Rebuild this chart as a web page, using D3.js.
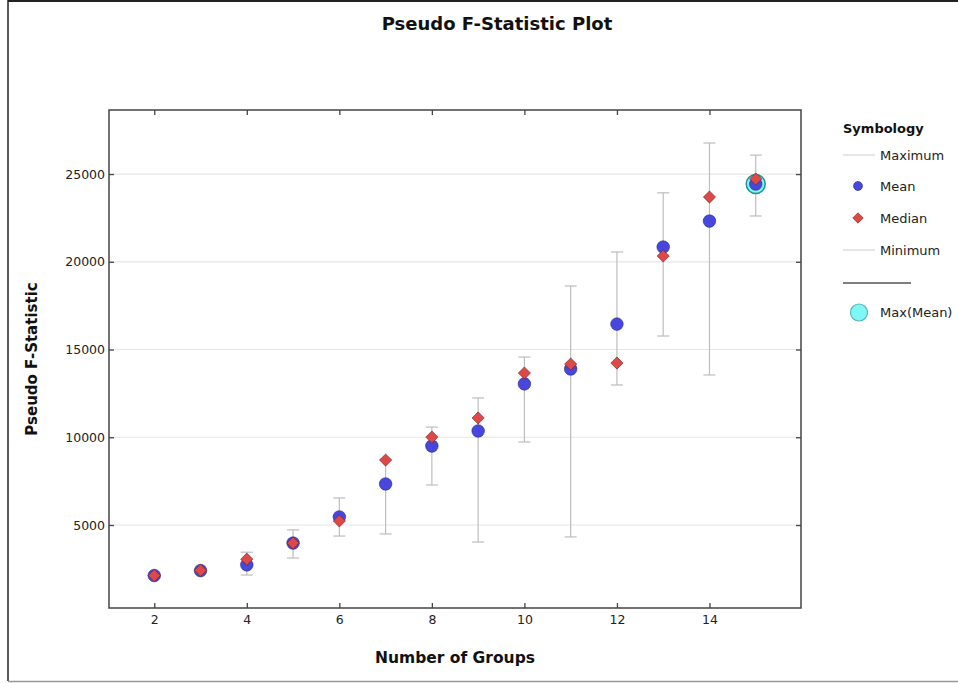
<!DOCTYPE html>
<html>
<head>
<meta charset="utf-8">
<script src="https://cdn.jsdelivr.net/npm/d3@7/dist/d3.min.js"></script>
<style>
  html, body { margin: 0; padding: 0; background: #fff; }
  svg { display: block; font-family: "DejaVu Sans", sans-serif; }
</style>
</head>
<body>
<svg id="chart" width="958" height="683"></svg>
<script>
// ---- data ----
const groups = [2, 3, 4, 5, 6, 7, 8, 9, 10, 11, 12, 13, 14, 15];
const meanVals   = [2120, 2400, 2730, 3970, 5460, 7340, 9500, 10360, 13040, 13890, 16450, 20840, 22320, 24430];
const medianVals = [2120, 2420, 3050, 3970, 5230, 8700, 10010, 11100, 13660, 14170, 14230, 20330, 23690, 24720];
const maxVals    = [2180, 2480, 3450, 4720, 6540, 8750, 10580, 12240, 14570, 18620, 20560, 23930, 26770, 26080];
const minVals    = [2080, 2360, 2150, 3120, 4370, 4490, 7280, 4030, 9730, 4320, 12980, 15770, 13550, 22610];
const xTicks = [2, 4, 6, 8, 10, 12, 14];
const yTicks = [5000, 10000, 15000, 20000, 25000];
const legendItems = ["Maximum", "Mean", "Median", "Minimum"];

const svg = d3.select("#chart");

// frame
svg.append("line").attr("x1", 8).attr("x2", 958).attr("y1", 1).attr("y2", 1).attr("stroke", "#222").attr("stroke-width", 2);
svg.append("line").attr("x1", 8).attr("x2", 8).attr("y1", 0).attr("y2", 681).attr("stroke", "#222").attr("stroke-width", 1.5);
svg.append("line").attr("x1", 8).attr("x2", 958).attr("y1", 681.5).attr("y2", 681.5).attr("stroke", "#999").attr("stroke-width", 1.5);

const L = 109, R = 801, T = 110, B = 608;
const x = d3.scaleLinear().domain([1, 16]).range([L - 1, R + 1]);
const y = d3.scaleLinear().domain([270, 28650]).range([B, T]);

// gridlines
svg.append("g").selectAll("line").data(yTicks).join("line")
  .attr("x1", L).attr("x2", R).attr("y1", d => y(d)).attr("y2", d => y(d))
  .attr("stroke", "#e6e6e6").attr("stroke-width", 1.2);

// axes with inward ticks
const axB = svg.append("g").attr("transform", `translate(0,${B})`)
  .call(d3.axisBottom(x).tickValues(xTicks).tickSize(-5).tickPadding(7).tickFormat(d3.format("d")));
const axT = svg.append("g").attr("transform", `translate(0,${T})`)
  .call(d3.axisTop(x).tickValues(xTicks).tickSize(-5).tickFormat(""));
const axL = svg.append("g").attr("transform", `translate(${L},0)`)
  .call(d3.axisLeft(y).tickValues(yTicks).tickSize(-5).tickPadding(4).tickFormat(d3.format("d")));
const axR = svg.append("g").attr("transform", `translate(${R},0)`)
  .call(d3.axisRight(y).tickValues(yTicks).tickSize(-5).tickFormat(""));
[axB, axT, axL, axR].forEach(a => {
  a.select(".domain").remove();
  a.selectAll(".tick line").attr("stroke", "#444").attr("stroke-width", 1.3);
  a.selectAll("text").attr("font-family", "DejaVu Sans").attr("font-size", 12.5).attr("fill", "#222");
});
// plot border
svg.append("rect").attr("x", L).attr("y", T).attr("width", R - L).attr("height", B - T)
  .attr("fill", "none").attr("stroke", "#444").attr("stroke-width", 1.5);

// error bars
const eb = svg.append("g").attr("stroke", "#bdbdbd").attr("stroke-width", 1.2);
groups.forEach((g, i) => {
  eb.append("line").attr("x1", x(g)).attr("x2", x(g)).attr("y1", y(maxVals[i])).attr("y2", y(minVals[i]));
  eb.append("line").attr("x1", x(g) - 6).attr("x2", x(g) + 6).attr("y1", y(maxVals[i])).attr("y2", y(maxVals[i]));
  eb.append("line").attr("x1", x(g) - 6).attr("x2", x(g) + 6).attr("y1", y(minVals[i])).attr("y2", y(minVals[i]));
});

// max(mean) highlight
const iMax = d3.maxIndex(meanVals);
svg.append("circle").attr("cx", x(groups[iMax])).attr("cy", y(meanVals[iMax])).attr("r", 9.5)
  .attr("fill", "#80f7f7").attr("stroke", "#23908f").attr("stroke-width", 1.5);

// means
svg.append("g").selectAll("circle").data(groups).join("circle")
  .attr("cx", d => x(d)).attr("cy", (d, i) => y(meanVals[i])).attr("r", 6.3)
  .attr("fill", "#4747e0").attr("stroke", "#2a2a70").attr("stroke-width", 0.8).attr("stroke-opacity", 0.7);

// medians
const diamond = d3.symbol().type(d3.symbolDiamond2).size(95);
svg.append("g").selectAll("path").data(groups).join("path")
  .attr("d", diamond)
  .attr("transform", (d, i) => `translate(${x(d)},${y(medianVals[i])})`)
  .attr("fill", "#e04848").attr("stroke", "#5a2020").attr("stroke-width", 0.8).attr("stroke-opacity", 0.7);

// titles
svg.append("text").attr("x", 497).attr("y", 30).attr("text-anchor", "middle")
  .attr("font-family", "DejaVu Sans").attr("font-weight", "bold").attr("font-size", 18).attr("fill", "#111")
  .text("Pseudo F-Statistic Plot");
svg.append("text").attr("x", 455).attr("y", 663).attr("text-anchor", "middle")
  .attr("font-family", "DejaVu Sans").attr("font-weight", "bold").attr("font-size", 15.5).attr("fill", "#111")
  .text("Number of Groups");
svg.append("text").attr("transform", "translate(37,359) rotate(-90)").attr("text-anchor", "middle")
  .attr("font-family", "DejaVu Sans").attr("font-weight", "bold").attr("font-size", 15).attr("fill", "#111")
  .text("Pseudo F-Statistic");

// legend
const lg = svg.append("g").attr("font-family", "DejaVu Sans").attr("fill", "#222");
lg.append("text").attr("x", 843).attr("y", 133).attr("font-weight", "bold").attr("font-size", 13).attr("fill", "#111").text("Symbology");
const rowsY = [155, 186, 218, 250];
legendItems.forEach((name, i) => {
  const yy = rowsY[i];
  if (name === "Maximum" || name === "Minimum") {
    lg.append("line").attr("x1", 843).attr("x2", 875).attr("y1", yy).attr("y2", yy).attr("stroke", "#cfcfcf").attr("stroke-width", 1);
  } else if (name === "Mean") {
    lg.append("circle").attr("cx", 858).attr("cy", yy).attr("r", 4.5).attr("fill", "#4747e0").attr("stroke", "#2a2a70").attr("stroke-width", 0.6);
  } else {
    lg.append("path").attr("d", d3.symbol().type(d3.symbolDiamond2).size(70)).attr("transform", `translate(858,${yy})`)
      .attr("fill", "#e04848").attr("stroke", "#5a2020").attr("stroke-width", 0.6);
  }
  lg.append("text").attr("x", 880).attr("y", yy + 4.5).attr("font-size", 13).text(name);
});
lg.append("line").attr("x1", 843).attr("x2", 911).attr("y1", 283).attr("y2", 283).attr("stroke", "#555").attr("stroke-width", 1.5);
lg.append("circle").attr("cx", 859).attr("cy", 312.5).attr("r", 8.5).attr("fill", "#80f7f7").attr("stroke", "#5cb5b5").attr("stroke-width", 1.2);
lg.append("text").attr("x", 880).attr("y", 317).attr("font-size", 13).text("Max(Mean)");
</script>
</body>
</html>
